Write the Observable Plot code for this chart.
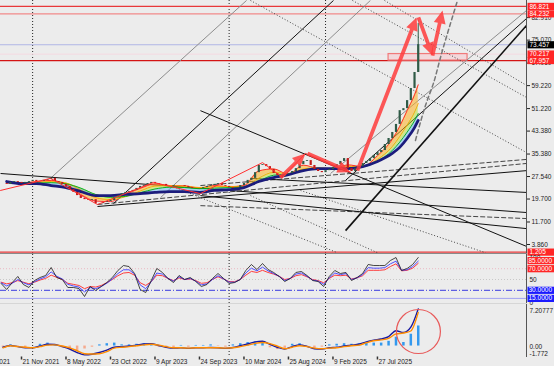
<!DOCTYPE html>
<html><head><meta charset="utf-8">
<script src="https://cdn.jsdelivr.net/npm/d3@7"></script>
<script src="https://cdn.jsdelivr.net/npm/@observablehq/plot@0.6"></script>
<style>
body{margin:0;background:#ececec;}
#c{position:relative;width:554px;height:366px;background:#ececec;overflow:hidden;font-family:"Liberation Sans",Arial,sans-serif;}
#c svg{position:absolute;left:0;overflow:visible;}
.axisline{position:absolute;left:526px;top:0;width:1px;height:357px;background:#555;}
.band{position:absolute;left:0;top:252.5px;width:527px;height:1.5px;background:#8a8a8a;}
.sep2{position:absolute;left:0;top:303px;width:527px;height:1px;background:#d6d6d6;}
</style></head><body><div id="c"></div>
<script>
// ---------- data (weeks counted from 21 Nov 2021, weekly bars) ----------
const dateLabels = ["6 Jun 2021","21 Nov 2021","8 May 2022","23 Oct 2022","9 Apr 2023","24 Sep 2023","10 Mar 2024","25 Aug 2024","9 Feb 2025","27 Jul 2025"];
const separators = ["2022-01-02","2024-01-14","2025-01-12"];

const closeStartWeek = -10, closeStep = 2;
const closes = [25.1,24.8,25.5,25.8,25.5,25.1,25.5,25.8,26.2,25.8,25.8,26.2,26.5,26.9,25.8,25.5,24.8,24.1,23.0,22.0,20.9,19.9,19.5,19.2,19.5,18.1,18.1,18.5,18.8,19.2,20.2,20.9,21.6,22.0,22.3,22.7,23.4,24.1,24.4,25.1,25.5,25.1,24.8,24.8,24.1,24.1,24.4,24.4,24.4,24.1,23.7,23.4,23.4,23.4,23.7,24.1,24.4,24.8,25.1,24.4,24.1,23.7,23.4,23.7,24.4,25.1,26.2,26.9,28.9,31.4,31.7,31.0,30.0,28.6,27.9,27.5,28.2,28.6,29.3,30.3,31.7,32.8,33.1,31.4,30.0,29.3,28.9,29.6,30.0,30.7,31.7,32.8,33.8,30.3,29.3,30.3,31.0,32.1,32.8,33.8,34.9,35.9,36.6,38.7,40.8,42.9,45.7,50.5,51.2,54.0,58.2,63.8,73.5];
const lastHigh = 80.9;

const maWeeks = [-8,0,8,16,24,32,40,48,56,64,72,80,88,96,104,112,120,128,136,144,152,160,168,176,184,192,200,204,208,212,214];
const maFast = [25.3,25.3,25.8,26.2,24.8,21.3,19.0,18.8,21.3,23.4,25.0,24.4,24.3,23.5,24.4,24.0,24.4,29.5,30.2,28.3,31.5,30.4,30.2,31.6,31.0,34.8,40.5,45.0,50.5,56.0,59.5];
const maMid  = [25.5,25.3,25.5,25.8,25.3,22.8,20.2,19.5,20.5,22.5,24.2,24.4,24.2,23.7,24.0,24.1,24.0,27.0,29.0,28.6,30.2,30.6,30.2,31.0,31.0,33.5,38.0,41.5,45.5,50.0,53.0];
const maSlow = [25.7,25.4,25.3,25.4,25.0,23.5,21.3,20.3,20.6,21.9,23.2,23.8,23.7,23.3,23.5,23.7,23.9,26.0,28.0,28.4,29.8,30.4,30.2,30.6,30.9,32.9,36.6,39.5,43.0,47.0,49.5];
const maBase = [25.8,25.1,25.1,24.4,23.7,22.3,20.9,20.9,21.3,21.6,22.0,22.3,22.3,22.0,22.7,23.0,23.7,25.8,27.2,28.2,29.6,30.3,30.3,30.3,31.0,32.8,35.6,37.7,40.8,44.6,47.1];

const priceTicks = [3.86,11.70,19.70,27.54,35.38,43.38,51.22,59.22,67.06,75.07,82.91];
const levelValues = [86.821,84.232,73.457,70.217,67.957,1.205];
const levelColors = ["#e8383a","#f28a8a","#b0b6e6","#f3dde3","#d41414","#e8383a"];
const levelBoxes  = ["#ff2626","#ff2626","#000000","#ff2626","#ff2626","#ff2626"];

// trendlines: [week1, price1, week2, price2]
const blackLines = [[49.6,18.1,168.3,88.9],[174.8,26.2,272.4,82.6],[96.5,50.5,272.4,3.2],[-11.3,28.6,272.4,15.0],[41.0,17.1,272.4,29.6],[96.5,20.9,272.4,9.4],[123.5,26.9,272.4,22.0]];
const thickLines = [[174.8,8.7,272.4,80.2]];
const grayLines = [[15.6,26.9,121.4,88.9],[75.0,20.2,188.2,88.9],[166.7,28.6,272.4,85.4]];
const dashedLines = [[41.0,17.8,272.4,32.1],[96.5,24.4,272.4,33.5],[96.5,17.4,272.4,12.9]];
const dottedLines = [[123.5,88.9,272.4,35.9],[195.8,88.9,272.4,59.3],[178.5,88.9,272.4,55.1],[80.4,24.4,170.4,1.0],[123.5,20.9,192.0,1.0],[150.5,22.7,250.3,1.0]];
const arcPoints = [[212.5,40.1],[217.9,52.3],[222.2,60.0],[226.0,69.0],[231.4,80.9],[235.2,88.9]];
const zigzag = [[-11.3,22.7],[15.6,26.9],[41.0,17.8],[71.2,25.5],[96.5,21.6],[130.0,32.4],[140.8,27.2],[153.2,35.6],[177.5,29.0]];
const arrows = [[139.7,27.2,153.2,35.6],[154.3,35.6,177.5,29.0],[181.2,29.6,213.1,83.0],[214.1,83.0,221.7,69.7],[221.7,69.7,227.1,85.4]];
const zone = [198.0,240.6,67.957,70.217];

const rsiStartWeek = -11, rsiStep = 3;
const rsiFast = [42.6,31.5,44.4,55.6,40.7,35.2,48.1,53.7,57.4,72.2,53.7,50,35.2,35.2,33.3,18.5,37,29.6,37,44.4,53.7,66.7,75.9,74,61.1,31.5,25.9,48.1,70.4,63,51.9,44.4,57.4,50,53.7,46.3,37,40.7,51.9,61.1,51.9,42.6,44.4,50,66.7,77.8,68.5,79.6,68.5,63,55.6,46.3,51.9,63,64.8,57.4,48.1,46.3,37,55.6,66.7,61.1,63,48.1,53.7,61.1,77.8,75.9,75.9,75.9,85.2,90.7,66.7,70.4,77.8,90.7];
const rsiMid = [44,38,43,50,44,40,46,51,55,64,56,51,41,38,36,27,35,33,37,43,51,61,68,68,60,40,33,46,62,60,52,47,55,50,52,47,40,42,50,57,51,45,45,50,62,71,66,73,66,61,56,48,52,60,62,56,49,47,41,53,62,59,61,50,53,59,72,71,71,72,79,84,67,68,74,84];
const rsiSlow = [45,42,44,48,45,42,45,49,52,58,54,50,43,41,39,33,37,36,39,44,50,57,62,63,58,44,39,46,58,57,52,48,53,50,51,48,43,44,50,55,51,46,46,50,58,65,63,67,63,60,56,50,52,57,59,55,50,48,44,52,58,57,58,51,53,57,67,67,67,68,74,79,66,67,71,80];
const rsiLevels = [70,50,30,15];
const rsiLevelColors = ["#eab9c4","#c8c8c8","#3b3be0","#a3a3f2"];
const rsiLevelDash = ["1,2","1,2","6,2,1,2","none"];
const rsiBoxValues = [85,70,30,15];
const rsiBoxColors = ["#ff2626","#ff2626","#1a1aff","#1a1aff"];
const rsiAxisLabels = ["100","50","0"];
const rsiAxisValues = [90.5,50,6.8];

const macdStartWeek = -10, macdStep = 4;
const macdSignal = [-0.3,0.05,-0.1,-0.2,-0.3,-0.1,0.15,0.2,0,-0.3,-0.8,-1.3,-1.35,-1.3,-0.95,-0.35,-0.2,-0.1,0.05,0.2,0.3,0.15,-0.1,-0.3,-0.3,-0.35,-0.3,-0.3,-0.3,-0.3,-0.35,-0.3,-0.1,0.15,0.45,0.6,0.4,0,-0.45,-0.2,0.05,-0.1,-0.35,-0.45,-0.35,-0.3,-0.1,0.05,0.15,0.55,0.9,1.05,1.3,2.05,2.2,2.55,5.7];
const macdMain = [-0.2,0.1,-0.1,-0.3,-0.3,0.0,0.3,0.25,-0.1,-0.5,-1.1,-1.5,-1.4,-1.1,-0.7,-0.2,-0.1,0.0,0.15,0.35,0.4,0.1,-0.2,-0.35,-0.3,-0.4,-0.3,-0.3,-0.25,-0.3,-0.4,-0.25,0.05,0.35,0.7,0.8,0.3,-0.2,-0.5,-0.1,0.2,-0.05,-0.45,-0.5,-0.3,-0.2,0.0,0.15,0.3,0.7,1.0,1.2,1.6,2.6,2.3,3.2,6.3];
const macdHist = [-0.2,0.2,-0.1,-0.3,0.0,0.3,0.5,0.2,-0.3,-0.6,-0.8,-0.5,-0.2,0.2,0.4,0.5,0.2,0.2,0.3,0.4,0.3,-0.2,-0.4,-0.3,0.1,-0.2,0.1,0.1,0.2,-0.1,-0.2,0.2,0.4,0.6,0.7,0.5,-0.3,-0.6,-0.4,0.3,0.4,-0.2,-0.4,-0.2,0.2,0.3,0.4,0.3,0.4,0.6,0.5,0.5,0.8,1.5,0.6,2.0,3.4];
const macdMax = 7.20777, macdMin = -1.772;
const macdCircle = [214.1, 2.46];

// ---------- helpers ----------
const base = Date.UTC(2021, 10, 21);
const W = w => new Date(base + w * 604800000);
const parseLabel = d3.utcParse("%d %b %Y");
const parseISO = d3.utcParse("%Y-%m-%d");
const xDomain = [W(-11.33), W(272.4)];
const priceDomain = [0.724, 88.88];
const FONT = "Liberation Sans, Arial, sans-serif";
const commonX = {type: "utc", domain: xDomain, axis: null};
const boxSymbol = {draw(ctx) { ctx.moveTo(-13.5,-3.6); ctx.lineTo(13.5,-3.6); ctx.lineTo(13.5,3.6); ctx.lineTo(-13.5,3.6); ctx.closePath(); }};
const tickSymbol = {draw(ctx) { ctx.moveTo(0,0); ctx.lineTo(0,3); }};
const arrowShape = {draw(ctx, l) {
  const hw = 1.9, hl = Math.min(13, l * 0.45), hh = 6;
  ctx.moveTo(-hw, 0); ctx.lineTo(-hw, -(l - hl)); ctx.lineTo(-hh, -(l - hl)); ctx.lineTo(0, -l);
  ctx.lineTo(hh, -(l - hl)); ctx.lineTo(hw, -(l - hl)); ctx.lineTo(hw, 0); ctx.closePath();
}};
const style = {background: "transparent", overflow: "visible", fontFamily: FONT, fontSize: "6.5px", color: "#222"};
const seg = arr => arr.map(([a,b,c,d]) => ({x1: W(a), y1: b, x2: W(c), y2: d}));

// scales identical to the price panel's, used to orient the arrow glyphs
const sx = Plot.scale({x: {type: "utc", domain: xDomain, range: [0, 526]}});
const sy = Plot.scale({y: {type: "linear", domain: priceDomain, range: [253, 0]}});
const arrowRows = arrows.map(([a,b,c,d]) => {
  const dx = sx.apply(W(c)) - sx.apply(W(a)), dy = sy.apply(d) - sy.apply(b);
  return {x: W(a), y: b, len: Math.hypot(dx, dy), rot: Math.atan2(dx, -dy) * 180 / Math.PI};
});

const priceRows = closes.map((c, i) => ({x: W(closeStartWeek + i * closeStep), c, o: i ? closes[i-1] : c}));
const lastRow = priceRows[priceRows.length - 1];
const maRows = maWeeks.map((w, i) => ({x: W(w), f: maFast[i], m: maMid[i], s: maSlow[i], b: maBase[i]}));
const levels = levelValues.map((v, i) => ({v, color: levelColors[i], box: levelBoxes[i], label: v.toFixed(3)}));
const sepDates = separators.map(parseISO);

const container = document.getElementById("c");

// ---------- price panel ----------
const price = Plot.plot({
  width: 554, height: 253, marginLeft: 0, marginRight: 28, marginTop: 0, marginBottom: 0,
  x: commonX, y: {domain: priceDomain, axis: null}, color: {type: "identity"}, length: {type: "identity"}, style,
  marks: [
    Plot.ruleX(sepDates, {stroke: "#222", strokeDasharray: "1,2"}),
    Plot.ruleY(levels, {y: "v", stroke: "color", strokeWidth: 1.2}),
    Plot.rect([zone], {x1: d => W(d[0]), x2: d => W(d[1]), y1: d => d[2], y2: d => d[3], fill: "#f7c9cd", fillOpacity: 0.55, stroke: "#f07a7a", strokeWidth: 1.2}),
    Plot.link(seg(dottedLines), {x1: "x1", y1: "y1", x2: "x2", y2: "y2", stroke: "#333", strokeDasharray: "1,2", strokeWidth: 0.9, clip: true}),
    Plot.link(seg(grayLines), {x1: "x1", y1: "y1", x2: "x2", y2: "y2", stroke: "#8d8d8d", strokeWidth: 1, clip: true}),
    Plot.link(seg(dashedLines), {x1: "x1", y1: "y1", x2: "x2", y2: "y2", stroke: "#444", strokeDasharray: "5,2", strokeWidth: 1, clip: true}),
    Plot.link(seg(blackLines), {x1: "x1", y1: "y1", x2: "x2", y2: "y2", stroke: "#111", strokeWidth: 1, clip: true}),
    Plot.link(seg(thickLines), {x1: "x1", y1: "y1", x2: "x2", y2: "y2", stroke: "#111", strokeWidth: 1.6, clip: true}),
    Plot.line(arcPoints, {x: d => W(d[0]), y: d => d[1], stroke: "#777", strokeDasharray: "4,3", curve: "natural", clip: true}),
    Plot.areaY(maRows, {x: "x", y1: "f", y2: "m", fill: "#ffb020", fillOpacity: 0.55, curve: "monotone-x"}),
    Plot.areaY(maRows, {x: "x", y1: "m", y2: "s", fill: "#b8e020", fillOpacity: 0.5, curve: "monotone-x"}),
    Plot.areaY(maRows, {x: "x", y1: "s", y2: "b", fill: "#40a8ff", fillOpacity: 0.4, curve: "monotone-x"}),
    Plot.line(maRows, {x: "x", y: "f", stroke: "#ff2020", strokeWidth: 0.9, curve: "monotone-x"}),
    Plot.line(maRows, {x: "x", y: "m", stroke: "#ffa000", strokeWidth: 0.9, curve: "monotone-x"}),
    Plot.line(maRows, {x: "x", y: "s", stroke: "#00b000", strokeWidth: 0.9, curve: "monotone-x"}),
    Plot.line(maRows, {x: "x", y: "b", stroke: "#1c1c7c", strokeWidth: 2.8, curve: "monotone-x"}),
    Plot.ruleX([lastRow], {x: "x", y1: "o", y2: lastHigh, stroke: "#2f5a46", strokeWidth: 1}),
    Plot.ruleX(priceRows, {x: "x", y1: "o", y2: "c", stroke: d => d.c >= d.o ? "#2f5a46" : "#c41a1a", strokeWidth: 2.2}),
    Plot.line(zigzag, {x: d => W(d[0]), y: d => d[1], stroke: "#ff3030", strokeWidth: 1, clip: true}),
    Plot.vector(arrowRows, {x: "x", y: "y", length: "len", rotate: "rot", anchor: "start", shape: arrowShape, fill: "#ff3c3c", fillOpacity: 0.85, stroke: "none"}),
    Plot.axisY(priceTicks, {anchor: "right", tickSize: 3, tickPadding: 2, tickFormat: d => d.toFixed(3), fontSize: 6.5, color: "#222", label: null}),
    Plot.dot(levels.filter(d => d.v > 60 || d.v < 2), {y: "v", frameAnchor: "right", dx: 14.5, symbol: boxSymbol, r: 1, fill: "box", stroke: "none"}),
    Plot.text(levels.filter(d => d.v > 60 || d.v < 2), {y: "v", text: "label", frameAnchor: "right", dx: 3, textAnchor: "start", fill: "white", fontSize: 6.5})
  ]
});
price.style.top = "0px";
container.appendChild(price);

// ---------- RSI panel ----------
const rsiRows = rsiFast.map((v, i) => ({x: W(rsiStartWeek + i * rsiStep), f: v, m: rsiMid[i], s: rsiSlow[i]}));
const rsiLv = rsiLevels.map((v, i) => ({v, c: rsiLevelColors[i], d: rsiLevelDash[i]}));
const rsiBx = rsiBoxValues.map((v, i) => ({v, c: rsiBoxColors[i], label: v.toFixed(4)}));
const rsiAx = rsiAxisLabels.map((t, i) => ({t, v: rsiAxisValues[i]}));
const rsi = Plot.plot({
  width: 554, height: 49, marginLeft: 0, marginRight: 28, marginTop: 0, marginBottom: 0,
  x: commonX, y: {domain: [5.56, 96.3], axis: null}, color: {type: "identity"}, style,
  marks: [
    Plot.ruleX(sepDates, {stroke: "#222", strokeDasharray: "1,2"}),
    ...rsiLv.map(l => Plot.ruleY([l.v], {stroke: l.c, strokeDasharray: l.d, strokeWidth: 1})),
    Plot.line(rsiRows, {x: "x", y: "s", stroke: "#ff2a2a", strokeWidth: 0.9}),
    Plot.line(rsiRows, {x: "x", y: "m", stroke: "#3c3cff", strokeWidth: 0.9}),
    Plot.line(rsiRows, {x: "x", y: "f", stroke: "#1a1a1a", strokeWidth: 0.8}),
    Plot.text(rsiAx, {y: "v", text: "t", frameAnchor: "right", dx: 3, textAnchor: "start", fill: "#222", fontSize: 6.5}),
    Plot.dot(rsiBx, {y: "v", frameAnchor: "right", dx: 14.5, symbol: boxSymbol, r: 1, fill: "c", stroke: "none"}),
    Plot.text(rsiBx, {y: "v", text: "label", frameAnchor: "right", dx: 2, textAnchor: "start", fill: "white", fontSize: 6.5})
  ]
});
rsi.style.top = "254px";
container.appendChild(rsi);

// ---------- MACD panel + date axis ----------
const macdRows = macdMain.map((v, i) => ({x: W(macdStartWeek + i * macdStep), m: v, s: macdSignal[i], h: macdHist[i]}));
const macd = Plot.plot({
  width: 554, height: 63, marginLeft: 0, marginRight: 28, marginTop: 0, marginBottom: 10,
  x: commonX, y: {domain: [macdMin, macdMax], axis: null}, color: {type: "identity"}, style,
  marks: [
    Plot.ruleX(sepDates, {stroke: "#222", strokeDasharray: "1,2"}),
    Plot.ruleX(macdRows, {x: "x", y1: 0, y2: "h", stroke: d => d.h >= 0 ? "#3399ee" : "#f5aa8e", strokeWidth: 2.5}),
    Plot.line(macdRows, {x: "x", y: "m", stroke: "#1818a0", strokeWidth: 1.4, curve: "monotone-x"}),
    Plot.line(macdRows, {x: "x", y: "s", stroke: "#ff8c00", strokeWidth: 1.4, curve: "monotone-x"}),
    Plot.dot([macdCircle], {x: d => W(d[0]), y: d => d[1], r: 22, stroke: "#e85a5a", strokeWidth: 1.2, fill: "none"}),
    Plot.text([macdMax.toFixed(5)], {text: d => d, frameAnchor: "top-right", dx: 3, dy: 5, textAnchor: "start", fill: "#222", fontSize: 6.5}),
    Plot.text(["0.00"], {y: 0, text: d => d, frameAnchor: "right", dx: 3, dy: 0.5, textAnchor: "start", fill: "#222", fontSize: 6.5}),
    Plot.text([macdMin.toFixed(3)], {text: d => d, frameAnchor: "bottom-right", dx: 3, dy: -1, textAnchor: "start", fill: "#222", fontSize: 6.5}),
    Plot.dot(dateLabels, {x: d => parseLabel(d), frameAnchor: "bottom", symbol: tickSymbol, r: 1, stroke: "#333", fill: "none"}),
    Plot.text(dateLabels, {x: d => parseLabel(d), text: d => d, frameAnchor: "bottom", dy: 7, dx: 1, textAnchor: "start", fill: "#222", fontSize: 6.5})
  ]
});
macd.style.top = "303px";
container.appendChild(macd);

for (const cls of ["axisline", "band", "sep2"]) {
  const d = document.createElement("div"); d.className = cls; container.appendChild(d);
}
</script></body></html>
